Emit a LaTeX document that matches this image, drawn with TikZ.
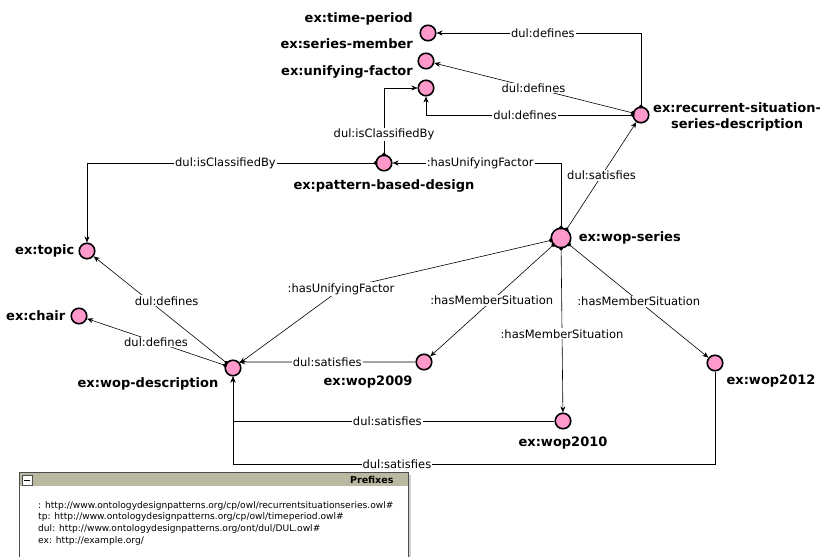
\documentclass[tikz,border=0pt]{standalone}
\usepackage{fontspec}
\setmainfont{DejaVu Sans}
\usepackage{tikz}
\usepackage{xcolor}
\usetikzlibrary{arrows.meta,positioning}
\definecolor{indpink}{RGB}{255,153,204}
\definecolor{prefixbar}{RGB}{186,184,160}

\begin{document}
\begin{tikzpicture}[x=1pt, y=-1pt,
    ind/.style={circle, draw, line width=1.6pt, fill=indpink, minimum size=15.5pt, inner sep=0pt},
    indlbl/.style={font=\fontsize{13}{16}\selectfont\bfseries, inner sep=1pt},
    rel/.style={line width=0.6pt, -{Stealth[length=6pt,width=5pt]}},
    relsrc/.style={rel, {Circle[length=4pt]}-{Stealth[length=6pt,width=5pt]}, shorten <=-2pt},
    rellbl/.style={font=\fontsize{11.5}{13}\selectfont, fill=white, inner sep=1pt}]
    \useasboundingbox (0,0) rectangle (820,557);

    % individuals
    \foreach \n/\x/\y in {tp/428/33, sm/426/61, uf/426/88, rec/641/115, pbd/384/163,
                          topic/87/251, chair/79/316, wd/233/368, w2009/424/362,
                          w2010/563/421, w2012/715/363}
        \node[ind] (\n) at (\x,\y) {};
    \node[ind, minimum size=19.5pt] (ws) at (561,238) {};

    % names
    \node[indlbl, anchor=east] (tp-l) at (414,18.5) {ex:time-period};
    \node[indlbl, anchor=east] (sm-l) at (414,44) {ex:series-member};
    \node[indlbl, anchor=east] (uf-l) at (414,72) {ex:unifying-factor};
    \node[indlbl, anchor=west, align=center] (rec-l) at (652,117) {ex:recurrent-situation-\\series-description};
    \node[indlbl, below=7pt of pbd] (pbd-l) {ex:pattern-based-design};
    \node[indlbl, right=6pt of ws] (ws-l) {ex:wop-series};
    \node[indlbl, left=3pt of topic] (topic-l) {ex:topic};
    \node[indlbl, left=4pt of chair] (chair-l) {ex:chair};
    \node[indlbl] (wd-l) at (148,384) {ex:wop-description};
    \node[indlbl] (w2009-l) at (368,382) {ex:wop2009};
    \node[indlbl, below=6pt of w2010] (w2010-l) {ex:wop2010};
    \node[indlbl] (w2012-l) at (771,381) {ex:wop2012};

    % relations
    \coordinate (hufbend) at (341,289);
    \draw[relsrc] (rec.north) |- node[rellbl, pos=0.74] {dul:defines} (tp);
    \draw[relsrc] (rec) -- node[rellbl] {dul:defines} (sm);
    \draw[relsrc] (rec.west) -| node[rellbl, pos=0.26] {dul:defines} (uf);
    \draw[relsrc] (pbd.north) |- node[rellbl, pos=0.15] {dul:isClassifiedBy} (uf);
    \draw[relsrc] (pbd.west) -| node[rellbl, pos=0.26] {dul:isClassifiedBy} (topic);
    \draw[relsrc] (ws.north) |- node[rellbl, pos=0.74] {:hasUnifyingFactor} (pbd);
    \draw[relsrc] (ws) -- node[rellbl] {dul:satisfies} (rec);
    \draw[relsrc] (ws) -- (hufbend) node[rellbl] {:hasUnifyingFactor} -- (wd);
    \draw[relsrc] (ws) -- node[rellbl] {:hasMemberSituation} (w2009);
    \draw[relsrc] (ws) -- node[rellbl, pos=0.52] {:hasMemberSituation} (w2010);
    \draw[relsrc] (ws) -- node[rellbl] {:hasMemberSituation} (w2012);
    \draw[relsrc] (wd) -- node[rellbl, pos=0.45, yshift=14pt] {dul:defines} (topic);
    \draw[relsrc] (wd) -- node[rellbl] {dul:defines} (chair);
    \draw[rel] (w2009) -- node[rellbl] {dul:satisfies} (wd.north east);
    \draw[rel] (w2010.west) -| node[rellbl, pos=0.26] {dul:satisfies} (wd.south);
    \draw[rel] (w2012.south) -- ++(0,93) -| node[rellbl, pos=0.33] {dul:satisfies} (wd.south);

    % prefixes panel
    \fill[gray!35] (22,475) rectangle (411,560);
    \draw[fill=white, draw=black!70] (19,472) rectangle (408,560);
    \fill[prefixbar] (19.5,472.5) rectangle (407.5,486);
    \draw[black!70, fill=white] (22,475) rectangle (32,485);
    \draw[line width=1pt] (24,480) -- (30,480);
    \node[anchor=east, font=\fontsize{9.5}{11}\selectfont\bfseries] (pfx-title) at (397,479.5) {Prefixes};
    \node[anchor=north west, align=left, inner sep=0pt, font=\fontsize{9.1}{11.8}\selectfont] (pfx-list) at (38,501)
        {: http://www.ontologydesignpatterns.org/cp/owl/recurrentsituationseries.owl\#\\
         tp: http://www.ontologydesignpatterns.org/cp/owl/timeperiod.owl\#\\
         dul: http://www.ontologydesignpatterns.org/ont/dul/DUL.owl\#\\
         ex: http://example.org/};
\end{tikzpicture}
\end{document}
